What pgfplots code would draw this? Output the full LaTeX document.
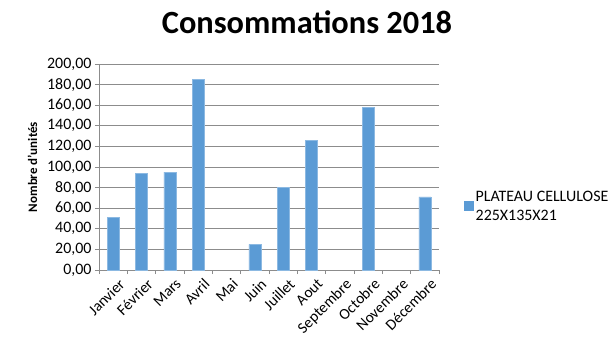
\documentclass[border=0pt]{standalone}
\usepackage{fontspec}
\setmainfont{Carlito}
\usepackage{pgfplots}
\pgfplotsset{compat=1.18}
\definecolor{barblue}{HTML}{5B9BD5}
\definecolor{gridgray}{HTML}{8C8C8C}
\begin{document}
\begin{tikzpicture}[x=1bp,y=1bp]
\path[use as bounding box] (-99bp,-79bp) rectangle (515bp,270bp);
\begin{axis}[
  at={(0,0)}, anchor=south west,
  scale only axis, width=340bp, height=206bp,
  ymin=0, ymax=200, ytick={0,20,...,200},
  xmin=-0.5, xmax=11.5,
  xtick={-0.5,0.5,...,11.5},
  x tick label as interval,
  xticklabels={Janvier,Février,Mars,Avril,Mai,Juin,Juillet,Aout,Septembre,Octobre,Novembre,Décembre},
  x tick label style={rotate=45, anchor=north east, font=\fontsize{15.5}{17}\selectfont, inner sep=1pt, yshift=-5bp, xshift=2bp},
  y tick label style={font=\fontsize{16}{17}\selectfont},
  /pgf/number format/assume math mode=true,
  /pgf/number format/.cd, fixed, fixed zerofill, precision=2, use comma, 1000 sep={},
  /pgfplots/.cd,
  axis x line*=bottom, axis y line*=left,
  axis line style={gridgray, line width=0.8pt},
  tick align=outside, major tick length=4bp,
  tick style={gridgray, line width=0.8pt},
  ymajorgrids, grid style={gridgray, line width=0.8pt},
  ylabel={\bfseries Nombre d'unités},
  ylabel style={font=\fontsize{13}{15}\selectfont, at={(ticklabel cs:0.5)}, anchor=south, yshift=3bp},
  legend style={draw=none, at={(1.065,0.31)}, anchor=west, font=\fontsize{16}{19}\selectfont, cells={align=left}},
  legend image code/.code={\fill[barblue] (0bp,-4.5bp) rectangle (9bp,4.5bp);},
]
\addplot[ybar, bar width=12bp, fill=barblue, draw=barblue!70!white] coordinates {
(0,51) (1,94) (2,95) (3,185) (5,25) (6,80) (7,126) (9,158) (11,71)
};
\addlegendentry{PLATEAU CELLULOSE\\225X135X21}
\end{axis}
\node[font=\fontsize{32.5}{35}\selectfont\bfseries] at (208bp,248bp) {Consommations 2018};
\end{tikzpicture}
\end{document}
